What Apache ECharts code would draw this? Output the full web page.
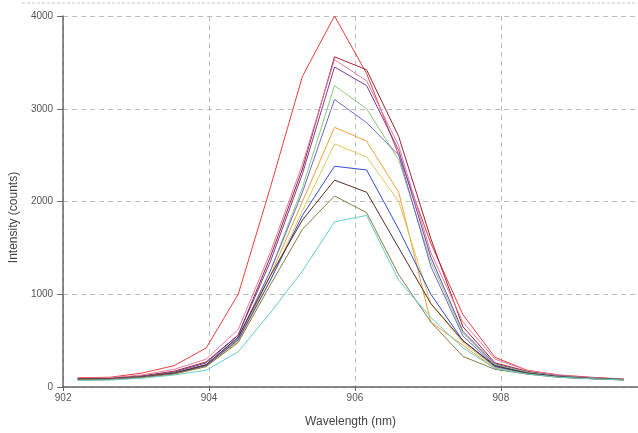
<!DOCTYPE html>
<html>
<head>
<meta charset="utf-8">
<script src="https://cdn.jsdelivr.net/npm/echarts@6/dist/echarts.min.js"></script>
<style>
html,body{margin:0;padding:0;background:#fff;}
#c{width:638px;height:433px;}
</style>
</head>
<body>
<div id="c"></div>
<script>
const wavelengths = [902.20, 902.64, 903.08, 903.52, 903.96, 904.40, 904.84, 905.28, 905.72, 906.16, 906.60, 907.04, 907.48, 907.92, 908.36, 908.80, 909.24, 909.68];

const sRed    = [100, 105, 150, 230, 420, 1000, 2150, 3350, 4000, 3380, 2500, 1550, 780, 320, 180, 130, 105, 85];
const sMaroon = [90, 95, 120, 170, 270, 560, 1400, 2350, 3560, 3420, 2700, 1600, 650, 260, 170, 120, 100, 85];
const sPink   = [95, 100, 130, 190, 300, 620, 1450, 2400, 3530, 3300, 2600, 1450, 700, 300, 180, 125, 100, 85];
const sPurple = [85, 90, 115, 160, 260, 560, 1350, 2300, 3450, 3250, 2550, 1400, 600, 250, 160, 120, 95, 80];
const sGreen  = [80, 85, 110, 150, 240, 520, 1250, 2150, 3250, 3000, 2450, 1350, 580, 240, 160, 115, 95, 80];
const sSlate  = [85, 90, 110, 150, 240, 530, 1250, 2100, 3100, 2850, 2500, 1300, 550, 230, 150, 110, 95, 80];
const sOrange = [75, 80, 105, 145, 230, 500, 1200, 2000, 2800, 2650, 2100, 700, 450, 200, 140, 105, 90, 75];
const sTan    = [75, 80, 100, 140, 220, 490, 1150, 1900, 2620, 2480, 2000, 900, 480, 210, 140, 105, 90, 75];
const sBlue   = [80, 85, 105, 145, 230, 510, 1150, 1850, 2380, 2340, 1700, 1000, 500, 220, 150, 110, 90, 78];
const sBrown  = [85, 90, 110, 150, 240, 540, 1200, 1800, 2230, 2100, 1500, 900, 500, 230, 150, 110, 92, 80];
const sOlive  = [80, 85, 105, 140, 220, 480, 1100, 1700, 2060, 1880, 1210, 700, 330, 190, 140, 105, 90, 78];
const sCyan   = [70, 75, 95, 130, 180, 380, 800, 1250, 1780, 1850, 1150, 750, 420, 200, 140, 105, 88, 75];

const seriesList = [
  {name:'S1', values:sRed,    color:'#e8413c'},
  {name:'S2', values:sMaroon, color:'#9b2335'},
  {name:'S3', values:sPink,   color:'#e57aa0'},
  {name:'S4', values:sPurple, color:'#7b3f9e'},
  {name:'S5', values:sGreen,  color:'#8cc97a'},
  {name:'S6', values:sSlate,  color:'#6a6ad0'},
  {name:'S7', values:sOrange, color:'#f2a03d'},
  {name:'S8', values:sTan,    color:'#e0c860'},
  {name:'S9', values:sBlue,   color:'#2f4fd6'},
  {name:'S10', values:sBrown, color:'#5a2d1e'},
  {name:'S11', values:sOlive, color:'#8d7b45'},
  {name:'S12', values:sCyan,  color:'#66cccc'}
];

const xTicks = [902, 904, 906, 908];
const yTicks = [0, 1000, 2000, 3000, 4000];

const chart = echarts.init(document.getElementById('c'), null, {renderer:'canvas'});
const gridLine = {show:true, lineStyle:{color:'#bdbdbd', type:[5,4], width:1}};
chart.setOption({
  animation:false,
  backgroundColor:'#fff',
  grid:{left:63, right:0, top:16, bottom:46, containLabel:false},
  xAxis:{
    type:'value', min:902, max:909.88, interval:2,
    name:'Wavelength (nm)', nameLocation:'middle', nameGap:29,
    nameTextStyle:{color:'#444', fontSize:12, fontFamily:'Liberation Sans'},
    axisLine:{show:true, onZero:false, lineStyle:{color:'#666', width:1.5}},
    axisTick:{show:true, length:4, lineStyle:{color:'#666'}},
    axisLabel:{color:'#555', fontSize:10, fontFamily:'Liberation Sans', showMaxLabel:false, margin:6,
      formatter:v => xTicks.includes(Math.round(v)) ? String(Math.round(v)) : ''},
    splitLine:gridLine
  },
  yAxis:{
    type:'value', min:0, max:4000, interval:1000,
    name:'Intensity (counts)', nameLocation:'middle', nameGap:42,
    nameTextStyle:{color:'#444', fontSize:12, fontFamily:'Liberation Sans', padding:[0,32,0,0]},
    axisLine:{show:true, lineStyle:{color:'#666', width:1.5}},
    axisTick:{show:true, length:6, lineStyle:{color:'#666'}},
    axisLabel:{color:'#555', fontSize:10, fontFamily:'Liberation Sans', margin:10,
      formatter:v => yTicks.includes(v) ? String(v) : ''},
    splitLine:gridLine
  },
  graphic:[{
    type:'line', shape:{x1:22, y1:3, x2:638, y2:3},
    style:{stroke:'#c8c8c8', lineWidth:1, lineDash:[3,2]}, silent:true
  }],
  series: seriesList.map(s => ({
    name:s.name, type:'line', symbol:'none',
    data: wavelengths.map((w,i) => [w, s.values[i]]),
    lineStyle:{color:s.color, width:1},
    itemStyle:{color:s.color}
  }))
});
</script>
</body>
</html>
